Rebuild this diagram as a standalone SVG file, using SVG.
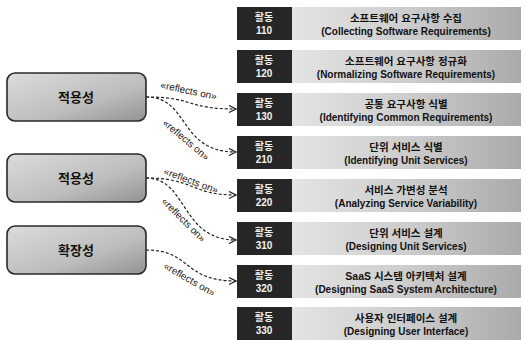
<svg xmlns="http://www.w3.org/2000/svg" width="524" height="340" viewBox="0 0 524 340">
<defs>
<linearGradient id="gLight" x1="0" y1="0" x2="1" y2="0">
<stop offset="0" stop-color="#e4e4e4"/>
<stop offset="0.5" stop-color="#cdcdcd"/>
<stop offset="1" stop-color="#aaaaaa"/>
</linearGradient>
<linearGradient id="gNode" x1="0" y1="0" x2="1" y2="1">
<stop offset="0" stop-color="#dcdcdc"/>
<stop offset="0.6" stop-color="#bdbdbd"/>
<stop offset="1" stop-color="#939393"/>
</linearGradient>
<marker id="arr" markerWidth="10" markerHeight="10" refX="8" refY="4" orient="auto" markerUnits="userSpaceOnUse">
<path d="M1,0.5 L8,4 L1,7.5" fill="none" stroke="#222" stroke-width="1.3"/>
</marker>
</defs>
<style>
.dark{fill:#262626;}
.light{fill:url(#gLight);}
.num{font-family:"Liberation Sans","Noto Sans CJK KR",sans-serif;font-size:10px;font-weight:bold;fill:#f2f2f2;text-anchor:middle;}
.t1{font-family:"Liberation Sans","Noto Sans CJK KR",sans-serif;font-size:10.5px;font-weight:bold;fill:#111;text-anchor:middle;}
.t2{font-family:"Liberation Sans","Noto Sans CJK KR",sans-serif;font-size:10px;font-weight:bold;fill:#111;text-anchor:middle;}
.node{fill:url(#gNode);stroke:#2a2a2a;stroke-width:1.6;}
.nt{font-family:"Liberation Sans","Noto Sans CJK KR",sans-serif;font-size:13px;font-weight:bold;fill:#111;text-anchor:middle;}
.conn{fill:none;stroke:#222;stroke-width:1.2;stroke-dasharray:3,2;marker-end:url(#arr);}
.lbl{font-family:"Liberation Sans","Noto Sans",sans-serif;font-size:10px;fill:#222;}
</style>
<rect width="524" height="340" fill="#ffffff"/>

<g id="a110">
<rect class="dark" x="237" y="7" width="55" height="33"/>
<rect class="light" x="292" y="7" width="229" height="33"/>
<text class="num" x="264" y="21">활동</text><text class="num" x="264" y="34">110</text>
<text class="t1" x="406" y="22">소프트웨어 요구사항 수집</text>
<text class="t2" x="406" y="35">(Collecting Software Requirements)</text>
</g>
<g id="a120">
<rect class="dark" x="237" y="50" width="55" height="33"/>
<rect class="light" x="292" y="50" width="229" height="33"/>
<text class="num" x="264" y="64">활동</text><text class="num" x="264" y="77">120</text>
<text class="t1" x="406" y="65">소프트웨어 요구사항 정규화</text>
<text class="t2" x="406" y="78">(Normalizing Software Requirements)</text>
</g>
<g id="a130">
<rect class="dark" x="237" y="93" width="55" height="33"/>
<rect class="light" x="292" y="93" width="229" height="33"/>
<text class="num" x="264" y="107">활동</text><text class="num" x="264" y="120">130</text>
<text class="t1" x="406" y="108">공통 요구사항 식별</text>
<text class="t2" x="406" y="121">(Identifying Common Requirements)</text>
</g>
<g id="a210">
<rect class="dark" x="237" y="136" width="55" height="33"/>
<rect class="light" x="292" y="136" width="229" height="33"/>
<text class="num" x="264" y="150">활동</text><text class="num" x="264" y="163">210</text>
<text class="t1" x="406" y="151">단위 서비스 식별</text>
<text class="t2" x="406" y="164">(Identifying Unit Services)</text>
</g>
<g id="a220">
<rect class="dark" x="237" y="179" width="55" height="33"/>
<rect class="light" x="292" y="179" width="229" height="33"/>
<text class="num" x="264" y="193">활동</text><text class="num" x="264" y="206">220</text>
<text class="t1" x="406" y="194">서비스 가변성 분석</text>
<text class="t2" x="406" y="207">(Analyzing Service Variability)</text>
</g>
<g id="a310">
<rect class="dark" x="237" y="222" width="55" height="33"/>
<rect class="light" x="292" y="222" width="229" height="33"/>
<text class="num" x="264" y="236">활동</text><text class="num" x="264" y="249">310</text>
<text class="t1" x="406" y="237">단위 서비스 설계</text>
<text class="t2" x="406" y="250">(Designing Unit Services)</text>
</g>
<g id="a320">
<rect class="dark" x="237" y="265" width="55" height="33"/>
<rect class="light" x="292" y="265" width="229" height="33"/>
<text class="num" x="264" y="279">활동</text><text class="num" x="264" y="292">320</text>
<text class="t1" x="406" y="280">SaaS 시스템 아키텍처 설계</text>
<text class="t2" x="406" y="293">(Designing SaaS System Architecture)</text>
</g>
<g id="a330">
<rect class="dark" x="237" y="307" width="55" height="33"/>
<rect class="light" x="292" y="307" width="229" height="33"/>
<text class="num" x="264" y="321">활동</text><text class="num" x="264" y="334">330</text>
<text class="t1" x="406" y="322">사용자 인터페이스 설계</text>
<text class="t2" x="406" y="335">(Designing User Interface)</text>
</g>

<g id="n1">
<rect class="node" x="7" y="73" width="139" height="48" rx="8"/>
<text class="nt" x="76" y="102">적용성</text>
</g>
<g id="n2">
<rect class="node" x="7" y="154" width="139" height="48" rx="8"/>
<text class="nt" x="76" y="183">적용성</text>
</g>
<g id="n3">
<rect class="node" x="7" y="226" width="139" height="48" rx="8"/>
<text class="nt" x="76" y="255">확장성</text>
</g>

<g id="connectors">
<path class="conn" d="M146,97 C195,97 185,109 236,109"/>
<path class="conn" d="M146,97 C190,97 178,152 236,152"/>
<path class="conn" d="M146,178 C195,178 190,195 236,195"/>
<path class="conn" d="M146,178 C188,178 180,240 236,240"/>
<path class="conn" d="M146,250 C192,250 182,281 236,281"/>
<text class="lbl" transform="translate(160,88) rotate(12)">«reflects on»</text>
<text class="lbl" transform="translate(162,124) rotate(40)">«reflects on»</text>
<text class="lbl" transform="translate(163,174) rotate(20)">«reflects on»</text>
<text class="lbl" transform="translate(161,202) rotate(45)">«reflects on»</text>
<text class="lbl" transform="translate(163,268) rotate(30)">«reflects on»</text>
</g>
</svg>
